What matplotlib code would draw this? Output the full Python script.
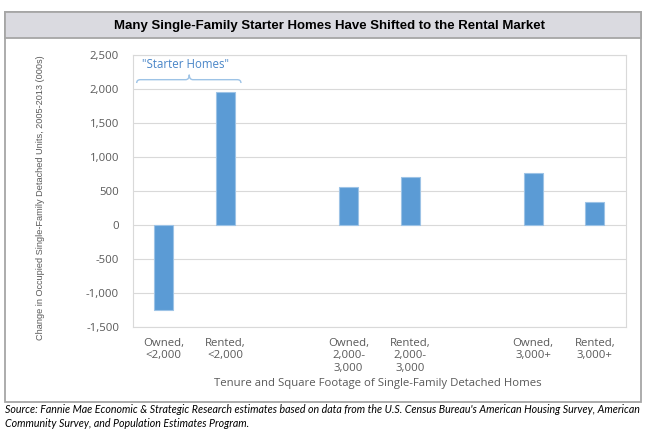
import matplotlib
matplotlib.use("Agg")
import matplotlib.pyplot as plt
from matplotlib.patches import Rectangle, PathPatch
from matplotlib.path import Path
from matplotlib.ticker import FuncFormatter

# ---- data ----
categories = ["Owned,\n<2,000", "Rented,\n<2,000",
              "Owned,\n2,000-\n3,000", "Rented,\n2,000-\n3,000",
              "Owned,\n3,000+", "Rented,\n3,000+"]
slots = [0, 1, 3, 4, 6, 7]          # category slots (2 and 5 are blank gaps)
values = [-1250, 1950, 560, 706, 770, 335]
y_ticks = [-1500, -1000, -500, 0, 500, 1000, 1500, 2000, 2500]

title = "Many Single-Family Starter Homes Have Shifted to the Rental Market"
ylabel = "Change in Occupied Single-Family Detached Units, 2005-2013 (000s)"
xlabel = "Tenure and Square Footage of Single-Family Detached Homes"
source = ("Source: Fannie Mae Economic & Strategic Research estimates based on data from the U.S. Census Bureau's American Housing Survey, American\n"
          "Community Survey, and Population Estimates Program.")

W, H = 650, 433
fig = plt.figure(figsize=(W / 100, H / 100), dpi=100)

def fx(px):
    return px / W

def fy(py):
    return 1 - py / H

narrow = ["Liberation Sans", "DejaVu Sans"]
body = ["Open Sans", "DejaVu Sans"]

# outer frame
fig.patches.append(Rectangle((fx(5), fy(401.5)), fx(636), (401.5 - 12) / H,
                             transform=fig.transFigure, fill=False,
                             edgecolor="#A6A6A6", linewidth=1.3, zorder=1))
# title band
fig.patches.append(Rectangle((fx(5), fy(38)), fx(636), (38 - 12) / H,
                             transform=fig.transFigure, facecolor="#DADAE0",
                             edgecolor="#A6A6A6", linewidth=1.3, zorder=1))
fig.text(fx(329), fy(25.5), title, ha="center", va="center",
         fontsize=9.5, fontweight="bold", family=narrow, color="#000000")

ax = fig.add_axes([fx(133), fy(327), fx(625.6 - 133), (327 - 55) / H])
ax.bar(slots, values, width=0.31, color="#5B9BD5", edgecolor="#9DC3E6",
       linewidth=0.8, zorder=3)
ax.set_xlim(-0.5, 7.5)
ax.set_ylim(-1500, 2500)
ax.set_yticks(y_ticks)
ax.yaxis.set_major_formatter(FuncFormatter(lambda v, p: f"{int(v):,}"))
ax.grid(axis="y", color="#D9D9D9", linewidth=0.8, zorder=0)
ax.set_xticks(slots)
ax.set_xticklabels(categories, family=body, fontsize=8.2, color="#595959",
                   linespacing=1.15, va="top")
for lab in ax.get_yticklabels():
    lab.set_family(body)
    lab.set_fontsize(8.2)
    lab.set_color("#595959")
ax.tick_params(axis="both", length=0)
ax.tick_params(axis="y", pad=10)
ax.tick_params(axis="x", pad=8)
for s in ax.spines.values():
    s.set_color("#D9D9D9")
    s.set_linewidth(0.8)

fig.text(fx(41), fy(198), ylabel, rotation=90, ha="center", va="center",
         fontsize=6.6, family=narrow, color="#595959")
fig.text(fx(378), fy(383.5), xlabel, ha="center", va="center",
         fontsize=8.2, family=body, color="#595959")

# "Starter Homes" brace
x0, x1, xc = -0.44, 1.253, 0.414
ye, yl, yt = 2088, 2137, 2210
d = 0.06
codes = [Path.MOVETO, Path.CURVE3, Path.CURVE3, Path.LINETO, Path.CURVE3, Path.CURVE3,
         Path.MOVETO, Path.CURVE3, Path.CURVE3, Path.LINETO, Path.CURVE3, Path.CURVE3]
verts = [(x0, ye), (x0, yl), (x0 + d, yl), (xc - d, yl), (xc, yl), (xc, yt),
         (xc, yt), (xc, yl), (xc + d, yl), (x1 - d, yl), (x1, yl), (x1, ye)]
ax.add_patch(PathPatch(Path(verts, codes), fill=False, edgecolor="#9DC3E6",
                       linewidth=1.0, zorder=4, clip_on=False))
ax.text(0.36, 2357, "\"Starter Homes\"", ha="center", va="center",
        fontsize=8.3, family=body, color="#4A86C8", zorder=4)

fig.text(fx(5), fy(416.5), source, ha="left", va="center", fontsize=7.7,
         family=["Lato", "DejaVu Sans"], style="italic", color="#000000",
         linespacing=1.3)

fig.savefig("out.png", dpi=100)
